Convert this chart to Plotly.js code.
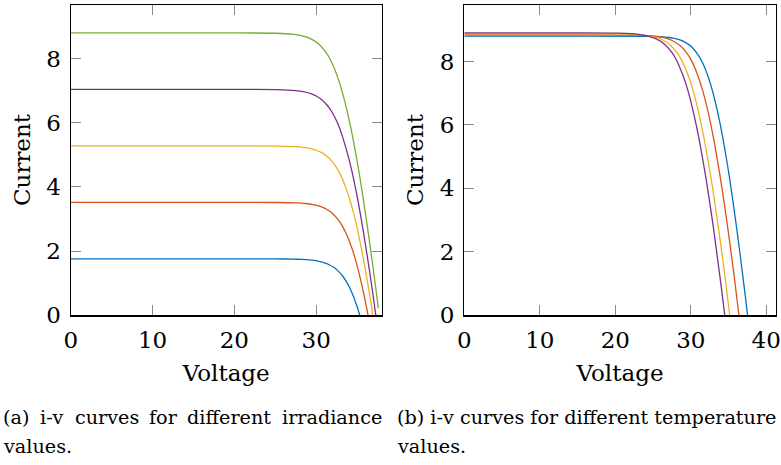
<!DOCTYPE html>
<html>
<head>
<meta charset="utf-8">
<script src="https://cdn.plot.ly/plotly-3.0.1.min.js"></script>
<style>
html,body{margin:0;padding:0;background:#fff;overflow:hidden;}
#chart{width:781px;height:465px;}
</style>
</head>
<body>
<div id="chart"></div>
<script>
// ---------- (a) irradiance curves: voltage (V) and current (A) ----------
const irrLabels = ['200 W/m²', '400 W/m²', '600 W/m²', '800 W/m²', '1000 W/m²'];

const vIrr200  = [0, 20, 24.93, 27.22, 28.21, 29.19, 30.19, 31.00, 31.53, 32.14, 32.57, 33.20, 33.67, 34.05, 34.36, 34.64, 34.88, 35.11, 35.22, 35.32];
const iIrr200  = [1.76, 1.76, 1.758, 1.751, 1.742, 1.725, 1.690, 1.637, 1.584, 1.496, 1.408, 1.232, 1.056, 0.880, 0.704, 0.528, 0.352, 0.176, 0.088, 0];

const vIrr400  = [0, 20, 25.36, 27.65, 28.64, 29.63, 30.65, 31.47, 32.01, 32.65, 33.11, 33.81, 34.33, 34.77, 35.14, 35.47, 35.78, 36.06, 36.20, 36.33];
const iIrr400  = [3.52, 3.52, 3.516, 3.502, 3.485, 3.450, 3.379, 3.274, 3.168, 2.992, 2.816, 2.464, 2.112, 1.760, 1.408, 1.056, 0.704, 0.352, 0.176, 0];

const vIrr600  = [0, 20, 25.37, 27.67, 28.66, 29.65, 30.68, 31.52, 32.08, 32.75, 33.24, 33.99, 34.58, 35.07, 35.49, 35.89, 36.25, 36.60, 36.76, 36.92];
const iIrr600  = [5.28, 5.28, 5.275, 5.254, 5.227, 5.174, 5.069, 4.910, 4.752, 4.488, 4.224, 3.696, 3.168, 2.640, 2.112, 1.584, 1.056, 0.528, 0.264, 0];

const vIrr800  = [0, 20, 25.15, 27.45, 28.44, 29.44, 30.48, 31.34, 31.92, 32.62, 33.13, 33.94, 34.59, 35.14, 35.62, 36.07, 36.50, 36.90, 37.09, 37.28];
const iIrr800  = [7.04, 7.04, 7.033, 7.005, 6.970, 6.899, 6.758, 6.547, 6.336, 5.984, 5.632, 4.928, 4.224, 3.520, 2.816, 2.112, 1.408, 0.704, 0.352, 0];

const vIrr1000 = [0, 20, 24.99, 27.29, 28.29, 29.29, 30.34, 31.22, 31.82, 32.54, 33.09, 33.96, 34.66, 35.27, 35.81, 36.32, 36.80, 37.26, 37.59];
const iIrr1000 = [8.80, 8.80, 8.791, 8.756, 8.712, 8.624, 8.448, 8.184, 7.920, 7.480, 7.040, 6.160, 5.280, 4.400, 3.520, 2.640, 1.760, 0.880, 0.220];

// ---------- (b) temperature curves ----------
const tempLabels = ['T1', 'T2', 'T3', 'T4'];

const vTemp1 = [0, 15, 24.81, 27.11, 28.11, 29.11, 30.16, 31.04, 31.64, 32.36, 32.91, 33.78, 34.48, 35.09, 35.63, 36.14, 36.62, 37.08, 37.31, 37.52];
const iTemp1 = [8.80, 8.80, 8.791, 8.756, 8.712, 8.624, 8.448, 8.184, 7.920, 7.480, 7.040, 6.160, 5.280, 4.400, 3.520, 2.640, 1.760, 0.880, 0.440, 0];

const vTemp2 = [0, 15, 22.90, 25.37, 26.44, 27.53, 28.65, 29.60, 30.24, 31.00, 31.59, 32.50, 33.23, 33.86, 34.43, 34.96, 35.46, 35.93, 36.15, 36.38];
const iTemp2 = [8.84, 8.84, 8.831, 8.796, 8.752, 8.663, 8.486, 8.221, 7.956, 7.514, 7.072, 6.188, 5.304, 4.420, 3.536, 2.652, 1.768, 0.884, 0.442, 0];

const vTemp3 = [0, 15, 21.39, 23.93, 25.03, 26.15, 27.30, 28.27, 28.91, 29.69, 30.29, 31.22, 31.96, 32.61, 33.19, 33.72, 34.23, 34.71, 34.93, 35.16];
const iTemp3 = [8.87, 8.87, 8.861, 8.826, 8.781, 8.693, 8.515, 8.249, 7.983, 7.540, 7.096, 6.209, 5.322, 4.435, 3.548, 2.661, 1.774, 0.887, 0.4435, 0];

const vTemp4 = [0, 15, 20.52, 23.10, 24.22, 25.36, 26.53, 27.52, 28.18, 28.96, 29.58, 30.51, 31.27, 31.92, 32.51, 33.05, 33.55, 34.04, 34.27, 34.50];
const iTemp4 = [8.90, 8.90, 8.891, 8.856, 8.811, 8.722, 8.544, 8.277, 8.010, 7.565, 7.120, 6.230, 5.340, 4.450, 3.560, 2.670, 1.780, 0.890, 0.445, 0];

// ---------- ticks and texts ----------
const xTicksA = [0, 10, 20, 30];
const xTicksB = [0, 10, 20, 30, 40];
const yTicks  = [0, 2, 4, 6, 8];
const xTitle = 'Voltage';
const yTitle = 'Current';
const captionAWords = ['(a)', 'i-v', 'curves', 'for', 'different', 'irradiance'];
const captionALine2 = 'values.';
const captionB = '(b) i-v curves for different temperature';
const captionBLine2 = 'values.';

// ---------- styling ----------
const colors = ['#0072BD', '#D95319', '#EDB120', '#7E2F8E', '#77AC30'];
const W = 781, H = 465;
const FONT = 'DejaVu Serif';

const irrV = [vIrr200, vIrr400, vIrr600, vIrr800, vIrr1000];
const irrI = [iIrr200, iIrr400, iIrr600, iIrr800, iIrr1000];
const tmpV = [vTemp1, vTemp2, vTemp3, vTemp4];
const tmpI = [iTemp1, iTemp2, iTemp3, iTemp4];

const traces = [];
irrV.forEach((v, k) => traces.push({
  x: v, y: irrI[k], type: 'scatter', mode: 'lines', name: irrLabels[k],
  line: {color: colors[k], width: 1.3, shape: 'spline', smoothing: 0.6},
  xaxis: 'x', yaxis: 'y', showlegend: false, hoverinfo: 'skip'
}));
tmpV.forEach((v, k) => traces.push({
  x: v, y: tmpI[k], type: 'scatter', mode: 'lines', name: tempLabels[k],
  line: {color: colors[k], width: 1.3, shape: 'spline', smoothing: 0.6},
  xaxis: 'x2', yaxis: 'y2', showlegend: false, hoverinfo: 'skip'
}));

const px = x => x / W;
const py = y => 1 - y / H;

function axisBase(extra) {
  return Object.assign({
    ticks: 'inside', ticklen: 10, tickwidth: 1, tickcolor: '#8a8a8a',
    showline: true, linecolor: '#000', linewidth: 1.2, mirror: 'allticks',
    showgrid: false, zeroline: false, automargin: false,
    tickfont: {family: FONT, size: 23, color: '#000'},
    fixedrange: true
  }, extra);
}

const yDom = [py(315.3), py(4.7)];
const titleFont = {family: FONT, size: 23, color: '#000'};

const layout = {
  width: W, height: H,
  margin: {l: 0, r: 0, t: 0, b: 0},
  paper_bgcolor: '#fff', plot_bgcolor: '#fff',
  showlegend: false,
  xaxis: axisBase({domain: [px(70.7), px(381.7)], range: [0, 38], tickvals: xTicksA, anchor: 'y', ticklabelstandoff: 4,
    title: {text: xTitle, font: titleFont, standoff: 12}}),
  yaxis: axisBase({domain: yDom, range: [0, 9.68], tickvals: yTicks, anchor: 'x', ticklabelstandoff: 4,
    title: {text: yTitle, font: titleFont, standoff: 9}}),
  xaxis2: axisBase({domain: [px(464.3), px(775.7)], range: [0, 41.25], tickvals: xTicksB, anchor: 'y2', ticklabelstandoff: 4,
    title: {text: xTitle, font: titleFont, standoff: 12}}),
  yaxis2: axisBase({domain: yDom, range: [0, 9.79], tickvals: yTicks, anchor: 'x2', ticklabelstandoff: 4,
    title: {text: yTitle, font: titleFont, standoff: 9}}),
  annotations: []
};

// caption (a): justified words across the left column
const capFont = {family: FONT, size: 19.2, color: '#000'};
const capAx = [1, 38.4, 72.6, 147.2, 185.2, 279.8];
captionAWords.forEach((w, k) => layout.annotations.push({
  text: w, xref: 'paper', yref: 'paper', x: px(capAx[k]), y: py(417),
  xanchor: 'left', yanchor: 'middle', showarrow: false, font: capFont
}));
layout.annotations.push({text: captionALine2, xref: 'paper', yref: 'paper', x: px(1), y: py(446),
  xanchor: 'left', yanchor: 'middle', showarrow: false, font: capFont});
layout.annotations.push({text: captionB, xref: 'paper', yref: 'paper', x: px(395), y: py(417),
  xanchor: 'left', yanchor: 'middle', showarrow: false, font: capFont});
layout.annotations.push({text: captionBLine2, xref: 'paper', yref: 'paper', x: px(395), y: py(446),
  xanchor: 'left', yanchor: 'middle', showarrow: false, font: capFont});

Plotly.newPlot('chart', traces, layout, {displayModeBar: false, staticPlot: true});
</script>
</body>
</html>
